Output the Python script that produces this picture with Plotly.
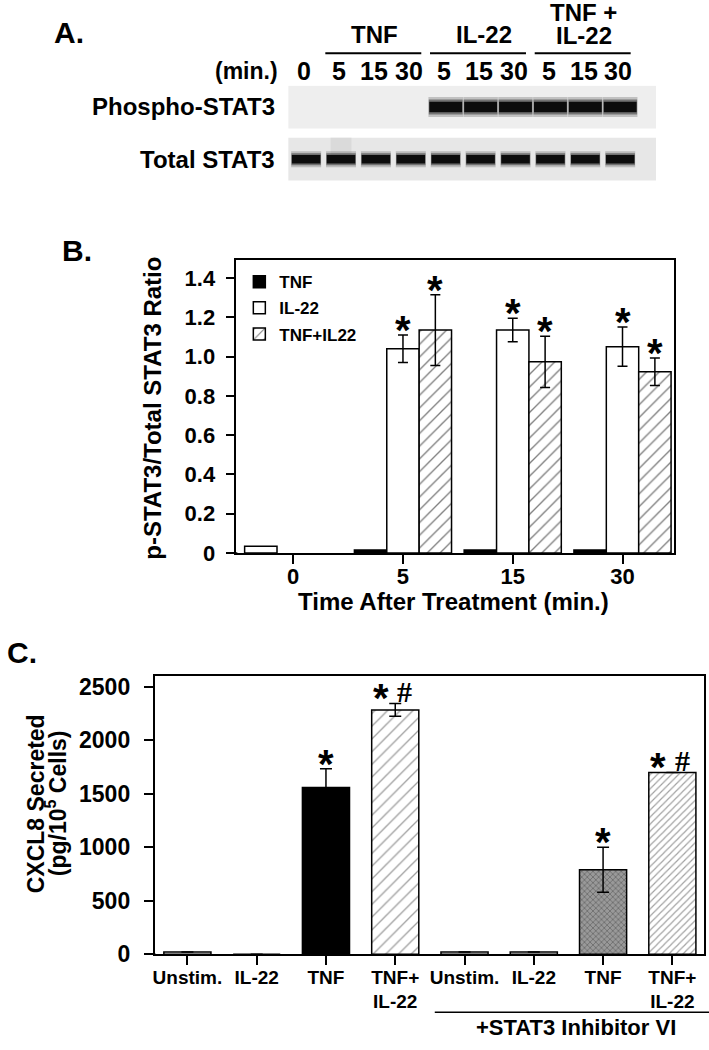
import plotly.graph_objects as go

W, H = 709, 1050
FONT = "Liberation Sans, Arial, Helvetica, sans-serif"
SERIF = "Liberation Serif, Times New Roman, serif"

# ---------------- Panel A : western blot ----------------
lane_times = ["0", "5", "15", "30", "5", "15", "30", "5", "15", "30"]
group_names = ["TNF", "IL-22", "TNF +<br>IL-22"]
group_first_lane = [1, 4, 7]
group_last_lane = [3, 6, 9]
blot_rows = ["Phospho-STAT3", "Total STAT3"]
phospho_band = [0, 0, 0, 0, 1, 1, 1, 1, 1, 1]   # relative band intensity
total_band = [1, 1, 1, 1, 1, 1, 1, 1, 1, 1]

# ---------------- Panel B ----------------
times = ["0", "5", "15", "30"]
ctrl_0 = [0.035]
tnf_vals = [0.015, 0.015, 0.015]
il22_vals = [1.04, 1.135, 1.05]
il22_err = [0.07, 0.06, 0.10]
combo_vals = [1.135, 0.973, 0.923]
combo_err = [0.18, 0.13, 0.07]

# ---------------- Panel C ----------------
c_cats = ["Unstim.", "IL-22", "TNF", "TNF+<br>IL-22",
          "Unstim.", "IL-22", "TNF", "TNF+<br>IL-22"]
c_vals = [20, 0, 1560, 2285, 20, 20, 790, 1700]
c_err = [0, 0, 175, 60, 0, 0, 210, 0]
c_star = [False, False, True, True, False, False, True, True]
c_hash = [False, False, False, True, False, False, False, True]
c_title = ["CXCL8 Secreted", "(pg/10<sup>5</sup> Cells)"]


def px(x):
    return x / W


def py(y):
    return 1 - y / H


fig = go.Figure()
ann = []
shapes = []

# ======== Panel A ========
n_lanes = len(lane_times)
lane_idx = list(range(n_lanes))
row_pos = [1, 0]
blot_bg = ["#eeeeee", "#e7e7e7"]
for r, c in zip(row_pos, blot_bg):
    shapes.append(dict(type="rect", xref="x3", yref="y3", x0=-0.514, x1=10.03,
                       y0=r - 0.41, y1=r + 0.41, fillcolor=c,
                       line=dict(width=0), layer="below"))
# faint smear in lane 1 of total blot
shapes.append(dict(type="rect", xref="x3", yref="y3", x0=0.7, x1=1.3,
                   y0=0.08, y1=0.41, fillcolor="#dadada", line=dict(width=0),
                   layer="below"))

for intens, r, core_t, wd in [(phospho_band, 1, 0.20, 0.99),
                              (total_band, 0, 0.16, 0.86)]:
    for k, (mult, col, wmul) in enumerate([(1.9, "rgba(60,60,60,0.25)", 1.0),
                                           (1.45, "rgba(40,40,40,0.5)", 0.98),
                                           (1.0, "#0c0c0c", 0.95)]):
        t = core_t * mult
        fig.add_trace(go.Bar(x=lane_idx, y=[t * v for v in intens],
                             base=[r - t * v / 2 for v in intens], width=wd * wmul,
                             marker=dict(color=col, line=dict(width=0)),
                             xaxis="x3", yaxis="y3", showlegend=False,
                             hoverinfo="skip"))

for i, t in enumerate(lane_times):
    ann.append(dict(x=i - 0.05, xref="x3", y=py(70), yref="paper", text=t,
                    showarrow=False, font=dict(size=25, family=FONT),
                    xanchor="center", yanchor="middle"))
ann.append(dict(x=px(279), y=py(70), xref="paper", yref="paper", text="(min.)",
                showarrow=False, font=dict(size=23, family=FONT),
                xanchor="right", yanchor="middle"))
for g, a, b in zip(group_names, group_first_lane, group_last_lane):
    shapes.append(dict(type="line", xref="x3", yref="paper", x0=a - 0.45, x1=b + 0.3,
                       y0=py(52), y1=py(52), line=dict(color="black", width=2)))
    lines = g.split("<br>")
    ys = [33] if len(lines) == 1 else [11, 34]
    for line_txt, yy in zip(lines, ys):
        ann.append(dict(x=(a + b) / 2 - 0.05 + (0.15 if a == 4 else 0), xref="x3",
                        y=py(yy), yref="paper",
                        text=line_txt, showarrow=False, font=dict(size=24, family=FONT),
                        xanchor="center", yanchor="middle"))
for name, r in zip(blot_rows, row_pos):
    ann.append(dict(x=px(276), xref="paper", y=r, yref="y3", text=name,
                    showarrow=False, font=dict(size=24, family=FONT),
                    xanchor="right", yanchor="middle"))

# ======== Panel B ========
bw = 0.295
fig.add_trace(go.Bar(x=[0 - bw], y=ctrl_0, width=bw, showlegend=False,
                     marker=dict(color="white", line=dict(color="black", width=1.5)),
                     xaxis="x", yaxis="y"))
fig.add_trace(go.Bar(name="TNF", x=[i + 1 - bw for i in range(3)], y=tnf_vals, width=bw,
                     marker=dict(color="black", line=dict(color="black", width=1.5)),
                     legendgroup="a", xaxis="x", yaxis="y"))
fig.add_trace(go.Bar(name="IL-22", x=[i + 1 for i in range(3)], y=il22_vals, width=bw,
                     marker=dict(color="white", line=dict(color="black", width=1.5)),
                     error_y=dict(type="data", array=il22_err, color="black",
                                  thickness=1.5, width=5),
                     legendgroup="b", xaxis="x", yaxis="y"))
fig.add_trace(go.Bar(name="TNF+IL22", x=[i + 1 + bw for i in range(3)], y=combo_vals,
                     width=bw,
                     marker=dict(color="white", line=dict(color="black", width=1.5),
                                 pattern=dict(shape="/", size=9, solidity=0.15,
                                              fgcolor="black", bgcolor="white")),
                     error_y=dict(type="data", array=combo_err, color="black",
                                  thickness=1.5, width=5),
                     legendgroup="c", xaxis="x", yaxis="y"))

for xs, vs, es in [([i + 1 for i in range(3)], il22_vals, il22_err),
                   ([i + 1 + bw for i in range(3)], combo_vals, combo_err)]:
    for x, v, e in zip(xs, vs, es):
        ann.append(dict(x=x, y=v + e, xref="x", yref="y", text="<b>*</b>",
                        showarrow=False, font=dict(size=40, family=FONT),
                        xanchor="center", yanchor="middle", yshift=5))

# ======== Panel C ========
cx = list(range(len(c_cats)))
c_colors = ["white", "white", "black", "white", "white", "white", "#999999", "white"]
c_shape = ["", "", "", "/", "", "", "x", "/"]
c_psize = [8, 8, 8, 9, 8, 8, 4, 5]
c_solid = [0.2, 0.2, 0.2, 0.15, 0.2, 0.2, 0.4, 0.24]
c_bg = ["white", "white", "black", "white", "white", "white", "#a8a8a8", "white"]
fig.add_trace(go.Bar(x=cx, y=c_vals, width=0.68, showlegend=False,
                     marker=dict(color=c_colors, line=dict(color="black", width=1.5),
                                 pattern=dict(shape=c_shape, size=c_psize,
                                              solidity=c_solid, fgcolor="#111111",
                                              bgcolor=c_bg)),
                     error_y=dict(type="data", array=c_err, color="black",
                                  thickness=1.5, width=6),
                     xaxis="x2", yaxis="y2"))
for x, v, e, s, h in zip(cx, c_vals, c_err, c_star, c_hash):
    if s:
        ann.append(dict(x=x - (0.21 if h else 0), y=v + e, xref="x2", yref="y2",
                        text="<b>*</b>", showarrow=False,
                        font=dict(size=40, family=FONT),
                        xanchor="center", yanchor="middle", yshift=5))
    if h:
        ann.append(dict(x=x + 0.14, y=v + e, xref="x2", yref="y2", text="#",
                        showarrow=False, font=dict(size=30, family=SERIF),
                        xanchor="center", yanchor="middle", yshift=12))

# group line for inhibitor
shapes.append(dict(type="line", xref="paper", yref="paper", x0=px(434), x1=px(709),
                   y0=py(1025), y1=py(1025), line=dict(color="black", width=1.5)))
ann.append(dict(x=px(576), y=py(1040), xref="paper", yref="paper",
                text="+STAT3 Inhibitor VI", showarrow=False,
                font=dict(size=22, family=FONT), xanchor="center", yanchor="middle"))

# axis extension stubs (Sigmaplot style)
shapes.append(dict(type="line", xref="paper", yref="paper", x0=px(227), x1=px(236),
                   y0=py(559), y1=py(559), line=dict(color="black", width=1.5)))
shapes.append(dict(type="line", xref="paper", yref="paper", x0=px(143), x1=px(154),
                   y0=py(966), y1=py(966), line=dict(color="black", width=1.5)))

# titles and panel letters
title_ann = [
    dict(x=px(67), y=py(31), text="A.", font=dict(size=30, family=FONT)),
    dict(x=px(75), y=py(252), text="B.", font=dict(size=30, family=FONT)),
    dict(x=px(20), y=py(660), text="C.", font=dict(size=30, family=FONT)),
    dict(x=px(151), y=py(412), text="p-STAT3/Total STAT3 Ratio", textangle=-90,
         font=dict(size=24, family=FONT)),
    dict(x=px(453), y=py(608), text="Time After Treatment (min.)",
         font=dict(size=24, family=FONT)),
    dict(x=px(34), y=py(813), text=c_title[0], textangle=-90,
         font=dict(size=23, family=FONT)),
    dict(x=px(55), y=py(813), text=c_title[1], textangle=-90,
         font=dict(size=23, family=FONT)),
]
for a in title_ann:
    a.update(xref="paper", yref="paper", showarrow=False,
             xanchor="center", yanchor="middle")
ann += title_ann

axis_common = dict(showline=True, linecolor="black", linewidth=1.5, mirror=True,
                   ticks="outside", ticklen=9, tickwidth=1.5, tickcolor="black",
                   showgrid=False, zeroline=False)

fig.update_layout(
    width=W, height=H, margin=dict(l=0, r=0, t=0, b=0),
    paper_bgcolor="white", plot_bgcolor="white",
    font=dict(family=FONT, color="black", weight="bold"),
    barmode="overlay",
    xaxis=dict(domain=[px(235), px(674)], range=[-0.518, 3.47],
               tickvals=[0, 1, 2, 3], ticktext=times, ticklabelstandoff=-6,
               tickfont=dict(size=22, family=FONT), anchor="y", **axis_common),
    yaxis=dict(domain=[py(559), py(262)], range=[0, 1.49],
               tickvals=[0, 0.2, 0.4, 0.6, 0.8, 1.0, 1.2, 1.4],
               ticktext=["0", "0.2", "0.4", "0.6", "0.8", "1.0", "1.2", "1.4"],
               ticklabelstandoff=6,
               tickfont=dict(size=22, family=FONT), anchor="x", **axis_common),
    xaxis2=dict(domain=[px(153), px(704)], range=[-0.474, 7.457],
                tickvals=cx, ticktext=c_cats, ticklabelstandoff=-4,
                tickfont=dict(size=19, family=FONT), anchor="y2", **axis_common),
    yaxis2=dict(domain=[py(966), py(684)], range=[0, 2600],
                tickvals=[0, 500, 1000, 1500, 2000, 2500], ticklabelstandoff=9,
                tickfont=dict(size=23, family=FONT), anchor="x2", **axis_common),
    xaxis3=dict(domain=[px(287), px(656)], range=[-0.514, 10.03], visible=False,
                anchor="y3"),
    yaxis3=dict(domain=[py(182), py(85)], range=[-0.425, 1.406], visible=False,
                anchor="x3"),
    legend=dict(x=px(238), y=py(266), xanchor="left", yanchor="top",
                bgcolor="rgba(0,0,0,0)", font=dict(size=17, family=FONT),
                tracegroupgap=1, itemwidth=30),
    annotations=ann, shapes=shapes,
)

fig.write_html("out.html", config={"displayModeBar": False},
               post_script="document.body.style.margin='0px';"
                           "document.body.style.overflow='hidden';")
